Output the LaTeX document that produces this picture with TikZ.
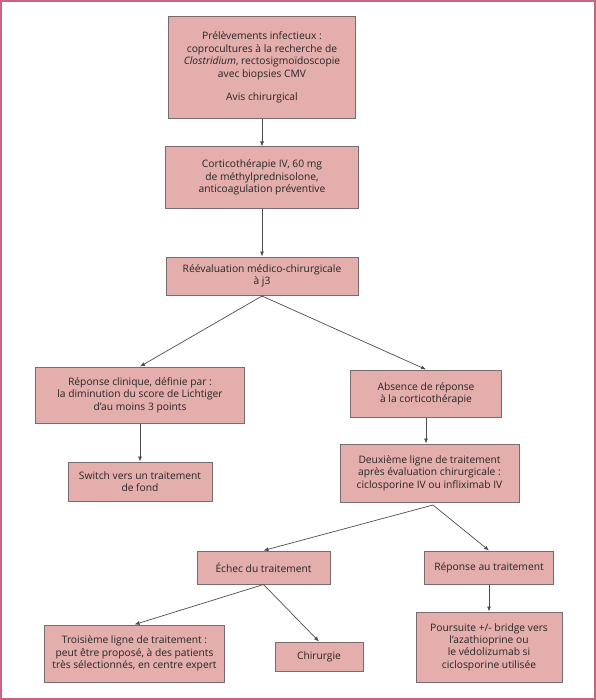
\documentclass[tikz,border=0pt]{standalone}
\usepackage{fontspec}
\setmainfont{Open Sans}
\usetikzlibrary{arrows.meta}
\definecolor{boxfill}{RGB}{227,174,172}
\definecolor{boxline}{RGB}{118,108,108}
\definecolor{framecol}{RGB}{203,99,132}
\tikzset{
	etape/.style={draw=boxline, fill=boxfill, line width=1bp, align=center, inner sep=0pt, text=black!85, font=\fontsize{10.3}{12.4}\selectfont},
	fleche/.style={draw=black!70, line width=0.7bp, -{Latex[length=5bp,width=4bp]}},
}

\begin{document}
\begin{tikzpicture}[x=1bp, y=-1bp]
			%%%%% START %%%%%
			
			\useasboundingbox (0,0) rectangle (596,700);
			\draw[framecol, line width=2bp] (1,1) rectangle (595,699);
			
			\node[etape, minimum width=187bp, minimum height=101bp] (prelev) at (262,67.5) {Prélèvements infectieux :\\ coprocultures à la recherche de\\ \textit{Clostridium}, rectosigmoïdoscopie\\ avec biopsies CMV\\[11bp] Avis chirurgical};
			\node[etape, minimum width=193bp, minimum height=61bp] (cortico) at (262,177.5) {Corticothérapie IV, 60 mg\\ de méthylprednisolone,\\ anticoagulation préventive};
			\node[etape, minimum width=192bp, minimum height=38bp] (reeval) at (262,276) {Réévaluation médico-chirurgicale\\ à j3};
			\coordinate (fourche1) at (262,296);
			
			\node[etape, minimum width=209bp, minimum height=56bp] (reponse) at (140,395) {Réponse clinique, définie par :\\ la diminution du score de Lichtiger\\ d’au moins 3 points};
			\node[etape, minimum width=144bp, minimum height=39bp] (switch) at (140,481.5) {Switch vers un traitement\\ de fond};
			
			\node[etape, minimum width=151bp, minimum height=47bp] (absence) at (426,393.5) {Absence de réponse\\ à la corticothérapie};
			\node[etape, minimum width=179bp, minimum height=58bp] (deuxieme) at (429.5,473) {Deuxième ligne de traitement\\ après évaluation chirurgicale :\\ ciclosporine IV ou infliximab IV};
			\coordinate (fourche2) at (433,505);
			
			\node[etape, minimum width=133bp, minimum height=33bp] (echec) at (263.5,567.5) {Échec du traitement};
			\node[etape, minimum width=129bp, minimum height=33bp] (reptrait) at (489,567.5) {Réponse au traitement};
			
			\node[etape, minimum width=179bp, minimum height=57bp] (troisieme) at (134.5,653.5) {Troisième ligne de traitement :\\ peut être proposé, à des patients\\ très sélectionnés, en centre expert};
			\node[etape, minimum width=88bp, minimum height=29bp] (chirurgie) at (319,656.5) {Chirurgie};
			\node[etape, minimum width=146bp, minimum height=70bp] (poursuite) at (489,647) {Poursuite +/- bridge vers\\ l'azathioprine ou\\ le védolizumab si\\ ciclosporine utilisée};
			
			\draw[fleche] (prelev) -- (cortico);
			\draw[fleche] (cortico) -- (reeval);
			\draw[draw=black!70, line width=0.7bp] (reeval.south) -- (fourche1);
			\draw[fleche] (fourche1) -- (reponse.north);
			\draw[fleche] (fourche1) -- (absence.north);
			\draw[fleche] (reponse) -- (switch);
			\draw[fleche] (absence.south) -- (absence.south |- deuxieme.north);
			\draw[fleche] (fourche2) -- (echec.north);
			\draw[fleche] (fourche2) -- (reptrait.north);
			\draw[fleche] (echec.south) -- (troisieme.north);
			\draw[fleche] (echec.south) -- (chirurgie.north);
			\draw[fleche] (reptrait) -- (poursuite);
			
			%%%%% END %%%%%
\end{tikzpicture}
\end{document}
